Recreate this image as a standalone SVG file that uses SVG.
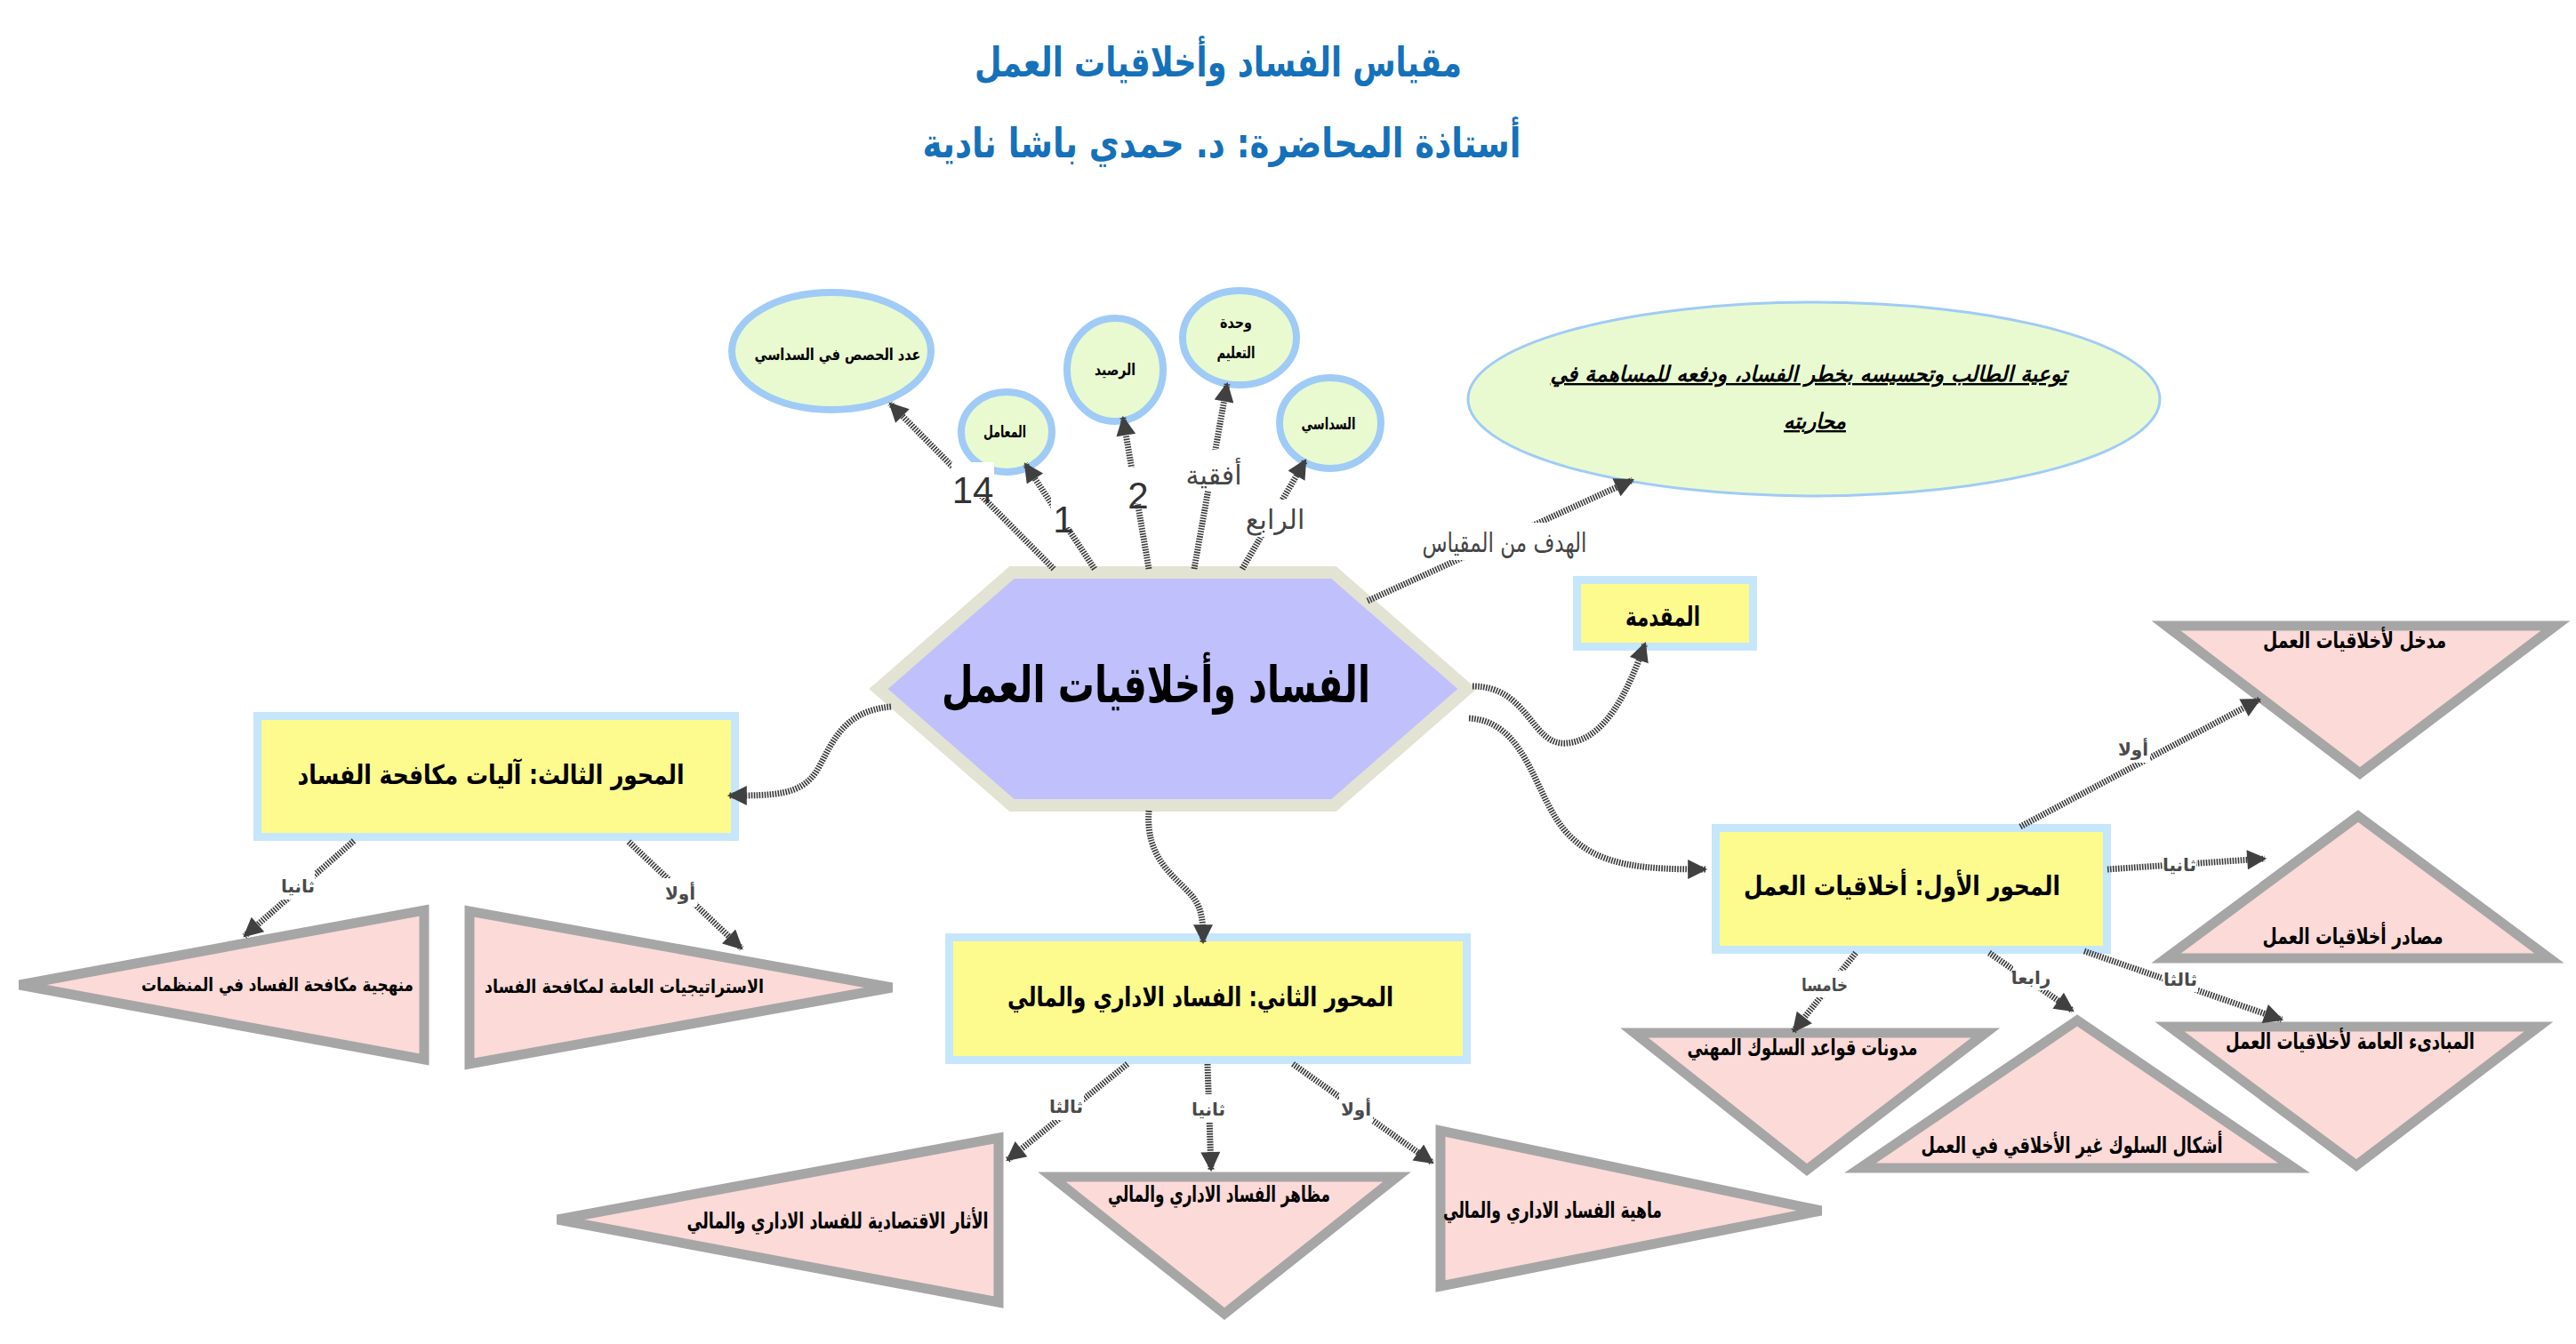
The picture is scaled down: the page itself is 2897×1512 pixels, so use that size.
<svg xmlns="http://www.w3.org/2000/svg" width="2897" height="1512" viewBox="0 0 2897 1512">
<style>
.ar{font-family:'DejaVu Sans',sans-serif;direction:rtl;text-anchor:middle}
.title{font-weight:bold;fill:#1571b9;font-size:46px}
.hex{font-weight:bold;fill:#000;font-size:57px}
.box{font-weight:bold;fill:#000;font-size:30px}
.tri{font-weight:bold;fill:#000;font-size:25px}
.tri2{font-weight:bold;fill:#000;font-size:21px}
.circ{font-weight:bold;fill:#000;font-size:18px}
.goal{font-weight:bold;font-style:italic;text-decoration:underline;fill:#000;font-size:24px}
.lbl{font-weight:bold;fill:#4a4a4a;font-size:20px}
.biglbl{fill:#444;font-size:30px}
.num{font-family:'Liberation Sans',sans-serif;fill:#333;font-size:42px;text-anchor:middle}
.ell{fill:#e9fad1;stroke:#9fcbf6;stroke-width:8}
.rbox{fill:#fdfb8e;stroke:#c6e6fb;stroke-width:9}
.trin{fill:#fbdad8;stroke:#a6a6a6;stroke-width:11}
.con{fill:none;stroke:#3a3a3a;stroke-width:7;stroke-dasharray:1.6 1.4;marker-end:url(#ah)}
.bg{fill:#fff}
</style>
<defs>
<marker id="ah" viewBox="0 0 10 10" refX="9" refY="5" markerWidth="28" markerHeight="22" markerUnits="userSpaceOnUse" orient="auto">
<path d="M0,0 L10,5 L0,10 z" fill="#404040"/>
</marker>
</defs>
<rect width="2897" height="1512" fill="#fff"/>

<g id="title">
<text class="ar title" x="1370" y="86" textLength="548" lengthAdjust="spacingAndGlyphs">مقياس الفساد وأخلاقيات العمل</text>
<text class="ar title" x="1374" y="177" textLength="673" lengthAdjust="spacingAndGlyphs">أستاذة المحاضرة: د. حمدي باشا نادية</text>
</g>

<g id="center">
<polygon points="988,775 1138,644 1500,644 1650,775 1500,906 1138,906" fill="#c0c0fc" stroke="#e3e3d3" stroke-width="14"/>
<text class="ar hex" x="1300" y="790" textLength="482" lengthAdjust="spacingAndGlyphs">الفساد وأخلاقيات العمل</text>
</g>

<g id="n-hisas">
<ellipse class="ell" cx="935" cy="395" rx="112" ry="66"/>
<text class="ar circ" x="942" y="405" textLength="187" lengthAdjust="spacingAndGlyphs">عدد الحصص في السداسي</text>
</g>
<g id="n-moamil">
<ellipse class="ell" cx="1132" cy="486" rx="51" ry="45"/>
<text class="ar circ" x="1130" y="492" textLength="48" lengthAdjust="spacingAndGlyphs">المعامل</text>
</g>
<g id="n-rasid">
<ellipse class="ell" cx="1254" cy="416" rx="54" ry="58"/>
<text class="ar circ" x="1254" y="422" textLength="46" lengthAdjust="spacingAndGlyphs">الرصيد</text>
</g>
<g id="n-wahda">
<ellipse class="ell" cx="1394" cy="380" rx="64" ry="53"/>
<text class="ar circ" x="1390" y="369" textLength="36" lengthAdjust="spacingAndGlyphs">وحدة</text>
<text class="ar circ" x="1390" y="403" textLength="43" lengthAdjust="spacingAndGlyphs">التعليم</text>
</g>
<g id="n-sudasi">
<ellipse class="ell" cx="1496" cy="476" rx="57" ry="51"/>
<text class="ar circ" x="1494" y="483" textLength="61" lengthAdjust="spacingAndGlyphs">السداسي</text>
</g>

<g id="n-goal">
<ellipse cx="2040" cy="449" rx="389" ry="109" fill="#e9fad1" stroke="#9fcbf6" stroke-width="3"/>
<text class="ar goal" x="2034" y="429" textLength="581" lengthAdjust="spacingAndGlyphs">توعية الطالب وتحسيسه بخطر الفساد، ودفعه للمساهمة في</text>
<text class="ar goal" x="2041" y="482" textLength="70" lengthAdjust="spacingAndGlyphs">محاربته</text>
</g>

<g id="n-muqaddima">
<rect class="rbox" x="1773.5" y="652.5" width="198" height="75"/>
<text class="ar box" x="1870" y="704" textLength="84" lengthAdjust="spacingAndGlyphs">المقدمة</text>
</g>

<g id="n-mihwar3">
<rect class="rbox" x="289.5" y="805.5" width="537" height="136"/>
<text class="ar box" x="552" y="882" textLength="435" lengthAdjust="spacingAndGlyphs">المحور الثالث: آليات مكافحة الفساد</text>
</g>
<g id="n-manhajiya">
<polygon class="trin" points="22,1108 477,1024 477,1192"/>
<text class="ar tri2" x="312" y="1115" textLength="306" lengthAdjust="spacingAndGlyphs">منهجية مكافحة الفساد في المنظمات</text>
</g>
<g id="n-istratijiyat">
<polygon class="trin" points="528,1025 528,1197 1003,1111"/>
<text class="ar tri2" x="702" y="1117" textLength="314" lengthAdjust="spacingAndGlyphs">الاستراتيجيات العامة  لمكافحة الفساد</text>
</g>

<g id="n-mihwar2">
<rect class="rbox" x="1067.5" y="1054.5" width="582" height="138"/>
<text class="ar box" x="1350" y="1132" textLength="434" lengthAdjust="spacingAndGlyphs">المحور الثاني: الفساد الاداري والمالي</text>
</g>
<g id="n-athar">
<polygon class="trin" points="627,1372 1123,1280 1123,1465"/>
<text class="ar tri" x="942" y="1382" textLength="339" lengthAdjust="spacingAndGlyphs">الأثار الاقتصادية للفساد الاداري والمالي</text>
</g>
<g id="n-mazahir">
<polygon class="trin" points="1183,1324 1571,1324 1377,1478"/>
<text class="ar tri" x="1371" y="1352" textLength="250" lengthAdjust="spacingAndGlyphs">مظاهر الفساد الاداري والمالي</text>
</g>
<g id="n-mahiya">
<polygon class="trin" points="1620,1272 1620,1447 2048,1362"/>
<text class="ar tri" x="1746" y="1370" textLength="246" lengthAdjust="spacingAndGlyphs">ماهية الفساد الاداري والمالي</text>
</g>

<g id="n-mihwar1">
<rect class="rbox" x="1929.5" y="931.5" width="440" height="137"/>
<text class="ar box" x="2139" y="1007" textLength="356" lengthAdjust="spacingAndGlyphs">المحور الأول: أخلاقيات العمل</text>
</g>
<g id="n-madkhal">
<polygon class="trin" points="2436,704 2874,704 2654,870"/>
<text class="ar tri" x="2648" y="729" textLength="206" lengthAdjust="spacingAndGlyphs">مدخل لأخلاقيات العمل</text>
</g>
<g id="n-masadir">
<polygon class="trin" points="2652,918 2436,1078 2867,1078"/>
<text class="ar tri" x="2646" y="1062" textLength="203" lengthAdjust="spacingAndGlyphs">مصادر أخلاقيات العمل</text>
</g>
<g id="n-mabadi">
<polygon class="trin" points="2440,1155 2855,1155 2650,1311"/>
<text class="ar tri" x="2643" y="1180" textLength="280" lengthAdjust="spacingAndGlyphs">المبادىء العامة لأخلاقيات العمل</text>
</g>
<g id="n-ashkal">
<polygon class="trin" points="2336,1148 2092,1314 2580,1314"/>
<text class="ar tri" x="2330" y="1297" textLength="339" lengthAdjust="spacingAndGlyphs">أشكال السلوك غير الأخلاقي  في العمل</text>
</g>
<g id="n-mudawwanat">
<polygon class="trin" points="1838,1162 2233,1162 2032,1316"/>
<text class="ar tri" x="2027" y="1187" textLength="259" lengthAdjust="spacingAndGlyphs">مدونات قواعد السلوك المهني</text>
</g>

<g id="connectors">
<path class="con" d="M1185,640 L1001,454"/>
<path class="con" d="M1231,640 L1153,522"/>
<path class="con" d="M1292,640 L1263,470"/>
<path class="con" d="M1343,640 L1380,432"/>
<path class="con" d="M1397,640 L1468,518"/>
<path class="con" d="M1538,676 L1836,540"/>
<path class="con" d="M1656,772 C1720,772 1722,840 1762,836 C1805,832 1830,780 1850,724"/>
<path class="con" d="M1652,808 C1720,812 1725,900 1765,940 C1800,975 1850,978 1918,978"/>
<path class="con" d="M1002,795 C945,800 935,840 918,868 C900,895 870,895 820,895"/>
<path class="con" d="M1292,912 C1288,965 1320,985 1338,1005 C1352,1020 1353,1035 1353,1060"/>
<path class="con" d="M398,946 L275,1053"/>
<path class="con" d="M707,947 L834,1067"/>
<path class="con" d="M1268,1197 L1133,1305"/>
<path class="con" d="M1358,1197 L1362,1316"/>
<path class="con" d="M1454,1197 L1611,1308"/>
<path class="con" d="M2272,930 L2541,787"/>
<path class="con" d="M2370,978 L2547,966"/>
<path class="con" d="M2344,1070 L2566,1147"/>
<path class="con" d="M2237,1072 L2331,1137"/>
<path class="con" d="M2087,1072 L2017,1160"/>

<rect class="bg" x="1070" y="520" width="48" height="40"/>
<text class="num" x="1094" y="566">14</text>
<rect class="bg" x="1182" y="553" width="28" height="40"/>
<text class="num" x="1196" y="599">1</text>
<rect class="bg" x="1264" y="526" width="32" height="40"/>
<text class="num" x="1280" y="572">2</text>
<rect class="bg" x="1336" y="506" width="58" height="46"/>
<text class="ar biglbl" x="1365" y="545">أفقية</text>
<rect class="bg" x="1404" y="562" width="60" height="42"/>
<text class="ar biglbl" x="1434" y="595">الرابع</text>
<rect class="bg" x="1598" y="588" width="190" height="42"/>
<text class="ar biglbl" x="1692" y="621" textLength="185" lengthAdjust="spacingAndGlyphs">الهدف من المقياس</text>

<rect class="bg" x="316" y="980" width="38" height="32"/>
<text class="ar lbl" x="335" y="1004">ثانيا</text>
<rect class="bg" x="746" y="988" width="38" height="32"/>
<text class="ar lbl" x="765" y="1012">أولا</text>
<rect class="bg" x="1179" y="1228" width="40" height="32"/>
<text class="ar lbl" x="1199" y="1252">ثالثا</text>
<rect class="bg" x="1339" y="1231" width="40" height="32"/>
<text class="ar lbl" x="1359" y="1255">ثانيا</text>
<rect class="bg" x="1506" y="1231" width="38" height="32"/>
<text class="ar lbl" x="1525" y="1255">أولا</text>
<rect class="bg" x="2380" y="826" width="38" height="32"/>
<text class="ar lbl" x="2399" y="850">أولا</text>
<rect class="bg" x="2432" y="958" width="38" height="28"/>
<text class="ar lbl" x="2451" y="980">ثانيا</text>
<rect class="bg" x="2432" y="1086" width="40" height="30"/>
<text class="ar lbl" x="2452" y="1109">ثالثا</text>
<rect class="bg" x="2264" y="1084" width="40" height="30"/>
<text class="ar lbl" x="2284" y="1107">رابعا</text>
<rect class="bg" x="2022" y="1092" width="60" height="30"/>
<text class="ar lbl" x="2052" y="1115" textLength="52" lengthAdjust="spacingAndGlyphs">خامسا</text>
</g>
</svg>
